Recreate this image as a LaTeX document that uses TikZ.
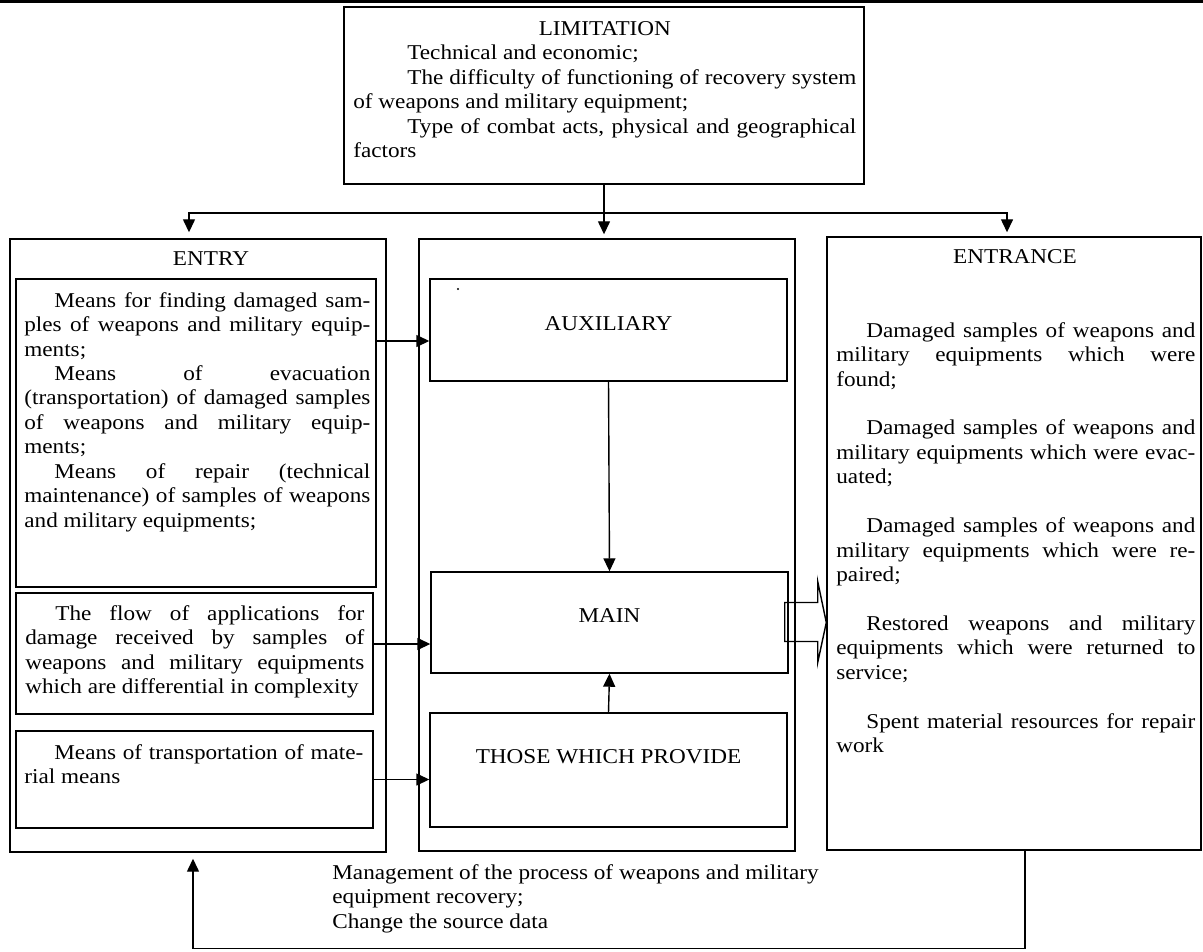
\documentclass[tikz,border=0pt]{standalone}
\usepackage{fontspec}
\setmainfont{Liberation Serif}[FakeStretch=1.1]
\usepackage{tikz}
\usetikzlibrary{calc,arrows.meta}
\setlength{\parindent}{0pt}
\newcommand{\myind}[1][6mm]{\hspace*{#1}}
\tikzset{
  blockbox/.style={draw, line width=0.8pt, inner sep=0pt},
  bodytext/.style={inner sep=0pt, anchor=north west, align=justify},
  flowarrow/.style={line width=0.8pt, -{Triangle[length=2.6mm,width=2.4mm]}},
}

\begin{document}
\begin{tikzpicture}[x=0.2mm, y=-0.2mm, font=\fontsize{12}{13.9}\selectfont]
  %%%%% START %%%%%
  \useasboundingbox (0,0) rectangle (1203,951);
  \fill (0,0) rectangle (1203,3.5);

  % limitation
  \node[blockbox, minimum width=104mm, minimum height=35.4mm] (lim) at (604,95.5) {};
  \node[bodytext, text width=100.6mm] (limtext) at (353,21) {{\centering LIMITATION\par}
    \myind[10.8mm]Technical and economic;\par
    \myind[10.8mm]The difficulty of functioning of recovery system \linebreak of weapons and military equipment;\par
    \myind[10.8mm]Type of combat acts, physical and geographical \linebreak factors};

  % entry
  \node[blockbox, minimum width=75.2mm, minimum height=122.6mm] (entry) at (198,545.5) {};
  \node[inner sep=0pt] (entryttl) at (211,259) {ENTRY};
  \node[blockbox, minimum width=72mm, minimum height=61.6mm] (find) at (196,433) {};
  \node[bodytext, text width=69.2mm] (findtext) at (24,292) {\myind Means for finding damaged sam-\linebreak ples of weapons and military equip-\linebreak ments;\par
    \myind Means of evacuation \linebreak (transportation) of damaged samples \linebreak of weapons and military equip-\linebreak ments;\par
    \myind Means of repair (technical \linebreak maintenance) of samples of weapons \linebreak and military equipments;};
  \node[blockbox, minimum width=71.4mm, minimum height=24.2mm] (flow) at (194.5,653.5) {};
  \node[bodytext, text width=67.8mm] (flowtext) at (25,605) {\myind The flow of applications for \linebreak damage received by samples of \linebreak weapons and military equipments \linebreak which are differential in complexity};
  \node[blockbox, minimum width=71.4mm, minimum height=19.4mm] (carry) at (194.5,779.5) {};
  \node[bodytext, text width=67.8mm] (carrytext) at (24,744) {\myind Means of transportation of mate-\linebreak rial means};

  % middle
  \node[blockbox, minimum width=75.2mm, minimum height=122.4mm] (mid) at (607,545) {};
  \node[blockbox, minimum width=71.4mm, minimum height=20.4mm, text depth=2.4mm] (aux) at (608.5,330) {AUXILIARY};
  \fill (458,289) circle (1.2);
  \node[blockbox, minimum width=71.4mm, minimum height=20.2mm, text depth=2.8mm] (main) at (609.5,622.5) {MAIN};
  \node[blockbox, minimum width=71.4mm, minimum height=22.8mm, text depth=5.2mm] (prov) at (608.5,770) {THOSE WHICH PROVIDE};

  % entrance
  \node[blockbox, minimum width=74.8mm, minimum height=122.6mm] (out) at (1014,543.5) {};
  \node[inner sep=0pt] (outttl) at (1015,257) {ENTRANCE};
  \node[bodytext, text width=71.8mm] (outtext) at (836,322) {\setlength{\parskip}{13.9pt}%
    \myind Damaged samples of weapons and \linebreak military equipments which were \linebreak found;\par
    \myind Damaged samples of weapons and \linebreak military equipments which were evac-\linebreak uated;\par
    \myind Damaged samples of weapons and \linebreak military equipments which were re-\linebreak paired;\par
    \myind Restored weapons and military \linebreak equipments which were returned to \linebreak service;\par
    \myind Spent material resources for repair \linebreak work};

  \node[bodytext, align=left] (mgmt) at (332,864) {Management of the process of weapons and military\\ equipment recovery;\\ Change the source data};

  % arrows
  \coordinate (split) at (lim.south |- 0,213);
  \draw[flowarrow, shorten >=0.8mm] (lim.south) -- (lim.south |- mid.north);
  \draw[flowarrow, shorten >=1.2mm] (split) -| ($(entry.north)+(-9,0)$);
  \draw[flowarrow, shorten >=0.8mm] (split) -| ($(out.north)+(-7,0)$);
  \draw[flowarrow] (find.east |- 0,341) -- (aux.west |- 0,341);
  \draw[flowarrow] (flow.east |- 0,644) -- (main.west |- 0,644);
  \draw[flowarrow] (carry.east) -- (prov.west |- carry.east);
  \draw[flowarrow] (aux.south) -- (main.north);
  \draw[flowarrow] (prov.north) -- (main.south);
  \draw[flowarrow, shorten >=1.2mm] ($(out.south)+(11,0)$) -- ++(0,98) -| ($(entry.south)+(-5,0)$);
  \draw[line width=0.8pt] ($(main.east)+(-4,-20)$) -- ++(33,0) -- ++(0,-21) -- (out.west |- main.east)
    -- ($(main.east)+(29,40)$) -- ++(0,-21) -- ++(-33,0) -- cycle;
  %%%%% END %%%%%
\end{tikzpicture}
\end{document}
